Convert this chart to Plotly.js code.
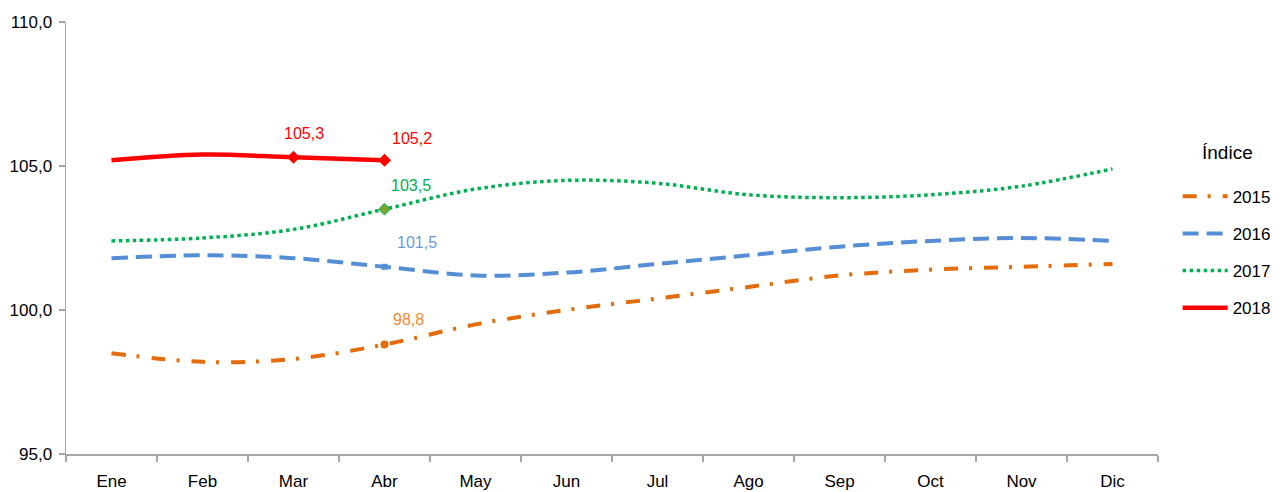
<!DOCTYPE html>
<html>
<head>
<meta charset="utf-8">
<script src="https://cdn.plot.ly/plotly-3.0.1.min.js"></script>
<style>html,body{margin:0;padding:0;background:#fff;}#chart{width:1280px;height:492px;}</style>
</head>
<body>
<div id="chart"></div>
<script>
const months = ["Ene","Feb","Mar","Abr","May","Jun","Jul","Ago","Sep","Oct","Nov","Dic"];
const v2015 = [98.5, 98.2, 98.3, 98.8, 99.5, 100.0, 100.4, 100.8, 101.2, 101.4, 101.5, 101.6];
const v2016 = [101.8, 101.9, 101.8, 101.5, 101.2, 101.3, 101.6, 101.9, 102.2, 102.4, 102.5, 102.4];
const v2017 = [102.4, 102.5, 102.8, 103.5, 104.2, 104.5, 104.4, 104.0, 103.9, 104.0, 104.3, 104.9];
const v2018 = [105.2, 105.4, 105.3, 105.2];
const seriesNames = ["2015","2016","2017","2018"];
const legendTitle = "Índice";

const FONT = "'Liberation Sans', Arial, sans-serif";
const cOrange = "#E46C0A", cBlue = "#558ED5", cGreen = "#00B050", cRed = "#FF0000";
const fmt = v => v.toFixed(1).replace('.', ',');

const traces = [
  {x: months, y: v2015, name: seriesNames[0], legendgroup: "a", mode: "lines",
   line: {color: cOrange, width: 4, dash: "14px,11px,3px,12px", shape: "spline", smoothing: 1}},
  {x: months, y: v2016, name: seriesNames[1], legendgroup: "b", mode: "lines",
   line: {color: cBlue, width: 4, dash: "16px,8px", shape: "spline", smoothing: 1}},
  {x: months, y: v2017, name: seriesNames[2], legendgroup: "c", mode: "lines",
   line: {color: cGreen, width: 3.5, dash: "3.5px,3.5px", shape: "spline", smoothing: 1}},
  {x: months.slice(0, v2018.length), y: v2018, name: seriesNames[3], legendgroup: "d", mode: "lines",
   line: {color: cRed, width: 4.5, shape: "spline", smoothing: 1}},
  {x: [months[3]], y: [v2015[3]], mode: "markers", showlegend: false, hoverinfo: "skip",
   marker: {symbol: "circle", size: 8, color: cOrange}},
  {x: [months[3]], y: [v2016[3]], mode: "markers", showlegend: false, hoverinfo: "skip",
   marker: {symbol: "square", size: 6, color: cBlue}},
  {x: [months[3]], y: [v2017[3]], mode: "markers", showlegend: false, hoverinfo: "skip",
   marker: {symbol: "diamond", size: 9, color: "#77A830", line: {color: cGreen, width: 1}}},
  {x: [months[2], months[3]], y: [v2018[2], v2018[3]], mode: "markers", showlegend: false, hoverinfo: "skip",
   marker: {symbol: "diamond", size: 10, color: cRed}}
];

const ann = (x, y, text, color, xanchor, xshift, yshift) => ({
  x, y, text, xref: "x", yref: "y", showarrow: false, xanchor, yanchor: "middle",
  xshift, yshift, font: {family: FONT, size: 16, color}
});

const annotations = [
  ann(months[2], v2018[2], fmt(v2018[2]), cRed, "center", 10, 24),
  ann(months[3], v2018[3], fmt(v2018[3]), cRed, "left", 5, 22),
  ann(months[3], v2017[3], fmt(v2017[3]), cGreen, "left", 4, 24),
  ann(months[3], v2016[3], fmt(v2016[3]), "#6C9BD8", "left", 10, 24),
  ann(months[3], v2015[3], fmt(v2015[3]), "#F08A32", "left", 6, 25),
  {x: 1.064, y: 0.699, xref: "paper", yref: "paper", text: legendTitle, showarrow: false,
   xanchor: "center", yanchor: "middle", font: {family: FONT, size: 19, color: "#000"}}
];

const layout = {
  width: 1280, height: 492,
  margin: {l: 66, r: 122, t: 22, b: 38, autoexpand: false},
  paper_bgcolor: "#fff", plot_bgcolor: "#fff",
  separators: ",.",
  font: {family: FONT, size: 17, color: "#000"},
  showlegend: true,
  legend: {
    x: 1.018, y: 0.637, xanchor: "left", yanchor: "top",
    font: {family: FONT, size: 17, color: "#000"},
    itemwidth: 45,
    tracegroupgap: 12, bgcolor: "rgba(0,0,0,0)"
  },
  xaxis: {
    type: "category", range: [-0.5, 11.5], showgrid: false, zeroline: false,
    showline: true, linecolor: "#A6A6A6", linewidth: 1.5,
    ticks: "outside", tickson: "boundaries", ticklen: 6, tickcolor: "#A6A6A6", tickwidth: 1.5,
    ticklabelstandoff: 11,
    tickfont: {family: FONT, size: 17, color: "#000"}, fixedrange: true
  },
  yaxis: {
    range: [95, 110], dtick: 5, tick0: 95, tickformat: ".1f", showgrid: false, zeroline: false,
    showline: true, linecolor: "#A6A6A6", linewidth: 1.5,
    ticks: "outside", ticklen: 6, tickcolor: "#A6A6A6", tickwidth: 1.5,
    ticklabelstandoff: 3,
    tickfont: {family: FONT, size: 17, color: "#000"}, fixedrange: true
  },
  annotations
};

Plotly.newPlot("chart", traces, layout, {displayModeBar: false, staticPlot: true});
</script>
</body>
</html>
